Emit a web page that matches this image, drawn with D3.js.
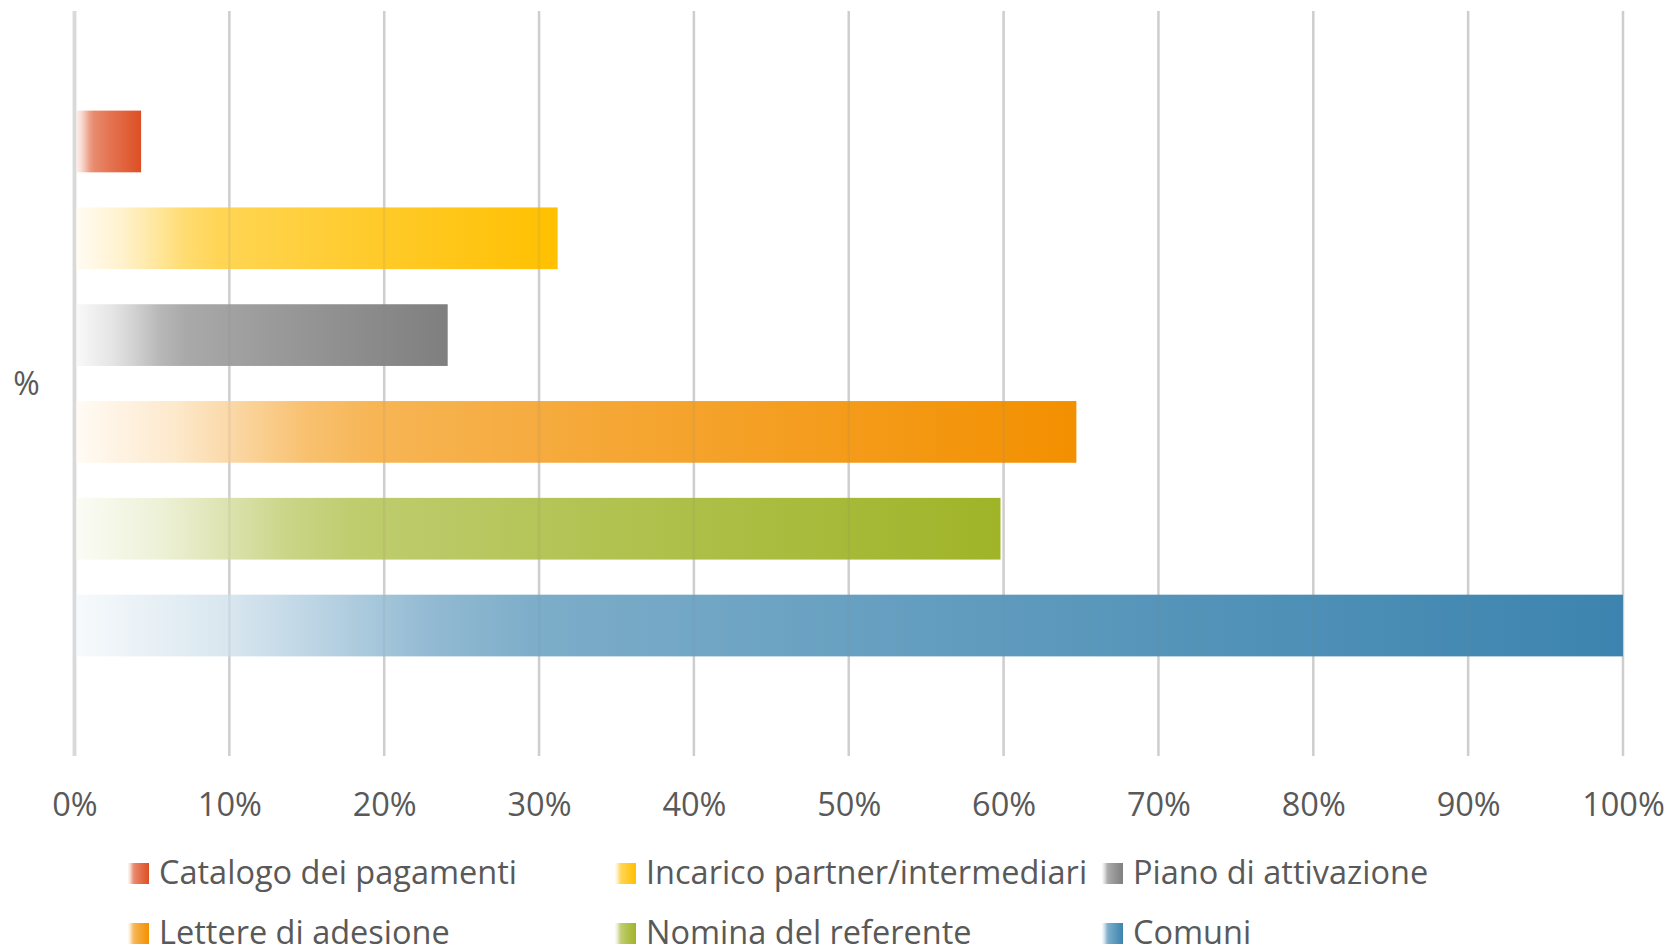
<!DOCTYPE html>
<html>
<head>
<meta charset="utf-8">
<script src="https://cdn.jsdelivr.net/npm/d3@7"></script>
<style>
  html, body { margin: 0; padding: 0; background: #ffffff; }
  svg { display: block; }
  text { font-family: "Open Sans", Lato, "Noto Sans", sans-serif; fill: #595959; }
</style>
</head>
<body>
<svg id="chart" width="1669" height="950"></svg>
<script>
// ---- data ----
const categories = ["%"];
const series = ["Catalogo dei pagamenti", "Incarico partner/intermediari", "Piano di attivazione",
                "Lettere di adesione", "Nomina del referente", "Comuni"];
const values = [4.3, 31.2, 24.1, 64.7, 59.8, 100];
const colors = ["#DD4F24", "#FFC000", "#7F7F7F", "#F39000", "#A0B428", "#3C84AF"];
const xTicks = [0, 10, 20, 30, 40, 50, 60, 70, 80, 90, 100];

// ---- layout ----
const plotTop = 11, plotBottom = 756;
const svg = d3.select("#chart");

const x = d3.scaleLinear().domain([0, 100]).range([74.5, 1623]);
const y = d3.scaleBand().domain(series).range([plotTop, plotBottom])
  .paddingInner(0.3626).paddingOuter(1.029);

// gradients
const defs = svg.append("defs");
const tintStops = [[0, 0.04], [0.1, 0.2], [0.15, 0.33], [0.23, 0.56], [0.3, 0.67], [0.55, 0.8], [1, 1]];
series.forEach((s, i) => {
  const g = defs.append("linearGradient").attr("id", "grad" + i)
    .attr("x1", 0).attr("y1", 0).attr("x2", 1).attr("y2", 0);
  tintStops.forEach(([o, t]) => {
    g.append("stop").attr("offset", o).attr("stop-color", d3.interpolateRgb("#ffffff", colors[i])(t));
  });
});

// gridlines (under bars)
svg.append("g").selectAll("line").data(xTicks).join("line")
  .attr("x1", d => x(d)).attr("x2", d => x(d))
  .attr("y1", plotTop).attr("y2", plotBottom)
  .attr("stroke", "#D9D9D9").attr("stroke-width", d => d === 0 ? 3.5 : 2.5);

// bars
svg.append("g").selectAll("rect").data(series).join("rect")
  .attr("x", x(0))
  .attr("y", d => y(d))
  .attr("width", (d, i) => x(values[i]) - x(0))
  .attr("height", y.bandwidth())
  .attr("fill", (d, i) => `url(#grad${i})`);

// faint gridline overlay (gridlines show through bars slightly)
svg.append("g").selectAll("line").data(xTicks.filter(d => d > 0)).join("line")
  .attr("x1", d => x(d)).attr("x2", d => x(d))
  .attr("y1", plotTop).attr("y2", plotBottom)
  .attr("stroke", "#808080").attr("stroke-opacity", 0.12).attr("stroke-width", 2.5);
svg.append("line").attr("x1", x(0)).attr("x2", x(0)).attr("y1", plotTop).attr("y2", plotBottom)
  .attr("stroke", "#D9D9D9").attr("stroke-width", 3.5);

// x axis tick labels
const axis = d3.axisBottom(x).tickValues(xTicks).tickFormat(d => d + "%").tickSize(0).tickPadding(0);
const ax = svg.append("g").call(axis);
ax.select(".domain").remove();
ax.selectAll("text")
  .attr("y", 816).attr("dy", null)
  .style("font-size", "32.5px").style("fill", "#595959")
  .style("font-family", "'Open Sans', Lato, sans-serif");

// category label
svg.append("text").attr("x", 26.5).attr("y", 395).attr("text-anchor", "middle")
  .style("font-size", "32px").text(categories[0]);

// legend
const colX = [128, 615, 1102];
const rowY = [863, 923];
const leg = svg.append("g").selectAll("g").data(series).join("g")
  .attr("transform", (d, i) => `translate(${colX[i % 3]}, ${rowY[Math.floor(i / 3)]})`);
leg.append("rect").attr("width", 21).attr("height", 21).attr("fill", (d, i) => `url(#grad${i})`);
leg.append("text").attr("x", 31).attr("y", 20.5).style("font-size", "32.5px").text(d => d);
</script>
</body>
</html>
